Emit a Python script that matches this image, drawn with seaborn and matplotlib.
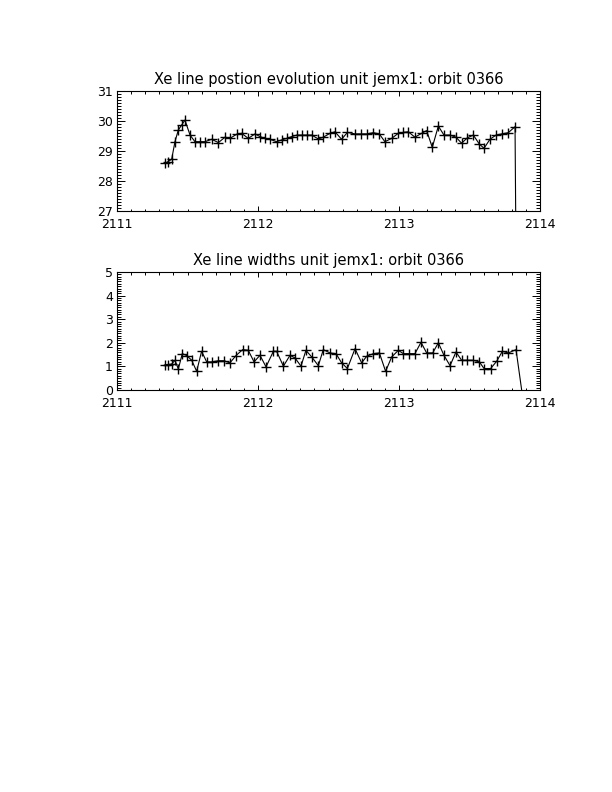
import matplotlib
matplotlib.use("Agg")
import matplotlib.pyplot as plt
from matplotlib.ticker import MultipleLocator
import pandas as pd
import seaborn as sns

# line position (top panel), last point is the drop to zero
x_pos = [2111.340, 2111.364, 2111.388, 2111.411, 2111.435, 2111.459, 2111.482, 2111.518,
         2111.553, 2111.589, 2111.624, 2111.671, 2111.719, 2111.766, 2111.801, 2111.849,
         2111.884, 2111.931, 2111.979, 2112.014, 2112.050, 2112.085, 2112.132, 2112.168,
         2112.203, 2112.239, 2112.274, 2112.310, 2112.345, 2112.381, 2112.428, 2112.463,
         2112.511, 2112.546, 2112.593, 2112.634, 2112.688, 2112.728, 2112.770, 2112.818,
         2112.860, 2112.900, 2112.948, 2112.995, 2113.031, 2113.066, 2113.113, 2113.161,
         2113.196, 2113.236, 2113.279, 2113.319, 2113.362, 2113.404, 2113.444, 2113.485,
         2113.527, 2113.570, 2113.603, 2113.645, 2113.688, 2113.728, 2113.775, 2113.823,
         2113.870]
y_pos = [28.59, 28.65, 28.73, 29.31, 29.70, 29.87, 30.03, 29.53,
         29.31, 29.31, 29.31, 29.39, 29.28, 29.46, 29.42, 29.56,
         29.59, 29.42, 29.57, 29.48, 29.42, 29.39, 29.31, 29.37,
         29.42, 29.48, 29.53, 29.53, 29.53, 29.53, 29.40, 29.46,
         29.59, 29.64, 29.39, 29.62, 29.57, 29.57, 29.57, 29.61,
         29.57, 29.31, 29.42, 29.59, 29.62, 29.64, 29.46, 29.59,
         29.68, 29.12, 29.83, 29.53, 29.53, 29.46, 29.26, 29.44,
         29.53, 29.23, 29.09, 29.39, 29.53, 29.57, 29.61, 29.81,
         0.0]

# line widths (bottom panel)
x_wid = [2111.340, 2111.364, 2111.388, 2111.411, 2111.435, 2111.463, 2111.494, 2111.530,
         2111.565, 2111.600, 2111.636, 2111.671, 2111.719, 2111.759, 2111.801, 2111.844,
         2111.891, 2111.931, 2111.972, 2112.014, 2112.057, 2112.109, 2112.132, 2112.180,
         2112.227, 2112.262, 2112.305, 2112.340, 2112.381, 2112.428, 2112.463, 2112.511,
         2112.553, 2112.593, 2112.634, 2112.688, 2112.735, 2112.771, 2112.818, 2112.861,
         2112.905, 2112.948, 2112.995, 2113.031, 2113.071, 2113.113, 2113.156, 2113.196,
         2113.239, 2113.279, 2113.319, 2113.362, 2113.404, 2113.444, 2113.485, 2113.527,
         2113.570, 2113.603, 2113.650, 2113.693, 2113.733, 2113.775, 2113.830, 2113.870]
y_wid = [1.08, 1.08, 1.10, 1.26, 0.89, 1.54, 1.46, 1.26,
         0.79, 1.64, 1.19, 1.19, 1.24, 1.24, 1.15, 1.46,
         1.71, 1.68, 1.19, 1.47, 0.98, 1.64, 1.64, 1.01,
         1.47, 1.36, 1.01, 1.68, 1.40, 1.03, 1.71, 1.57,
         1.54, 1.15, 0.91, 1.75, 1.15, 1.43, 1.54, 1.57,
         0.79, 1.40, 1.68, 1.54, 1.54, 1.54, 2.02, 1.57,
         1.57, 2.00, 1.47, 1.03, 1.61, 1.26, 1.26, 1.26,
         1.19, 0.91, 0.91, 1.22, 1.64, 1.57, 1.71, 0.0]

titles = ["Xe line postion evolution unit jemx1: orbit 0366",
          "Xe line widths unit jemx1: orbit 0366"]
ylims = [(27, 31), (0, 5)]

sns.set_style("white")
plt.rcParams["font.family"] = ["DejaVu Sans"]

fig = plt.figure(figsize=(6.12, 7.92), dpi=100)
ax_top = fig.add_axes([117 / 612, 1 - 211 / 792, 423 / 612, 120 / 792])
ax_bot = fig.add_axes([117 / 612, 1 - 390 / 792, 423 / 612, 118 / 792])

for axe, xs, ys, title, ylim in zip([ax_top, ax_bot], [x_pos, x_wid], [y_pos, y_wid], titles, ylims):
    df = pd.DataFrame({"x": xs, "y": ys})
    sns.lineplot(data=df, x="x", y="y", sort=False, estimator=None, color="black",
                 linewidth=0.8, marker="+", markersize=7, markeredgewidth=1.0,
                 markeredgecolor="black", markevery=list(range(len(xs) - 1)), ax=axe)
    axe.set_xlim(2111, 2114)
    axe.set_ylim(*ylim)
    axe.set_xlabel("")
    axe.set_ylabel("")
    axe.set_title(title, fontsize=10.5, pad=5, color="black")
    axe.xaxis.set_major_locator(MultipleLocator(1))
    axe.xaxis.set_minor_locator(MultipleLocator(0.1))
    axe.yaxis.set_major_locator(MultipleLocator(1))
    axe.yaxis.set_minor_locator(MultipleLocator(0.1))
    axe.tick_params(which="both", direction="in", top=True, right=True, left=True, bottom=True,
                    colors="black", labelsize=9, width=0.7)
    axe.tick_params(axis="x", which="major", length=3.5, pad=5)
    axe.tick_params(axis="x", which="minor", length=1.8)
    axe.tick_params(axis="y", which="major", length=5.5, pad=3)
    axe.tick_params(axis="y", which="minor", length=2.8)
    for sp in axe.spines.values():
        sp.set_color("black")
        sp.set_linewidth(0.8)

fig.savefig("out.png", dpi=100)
